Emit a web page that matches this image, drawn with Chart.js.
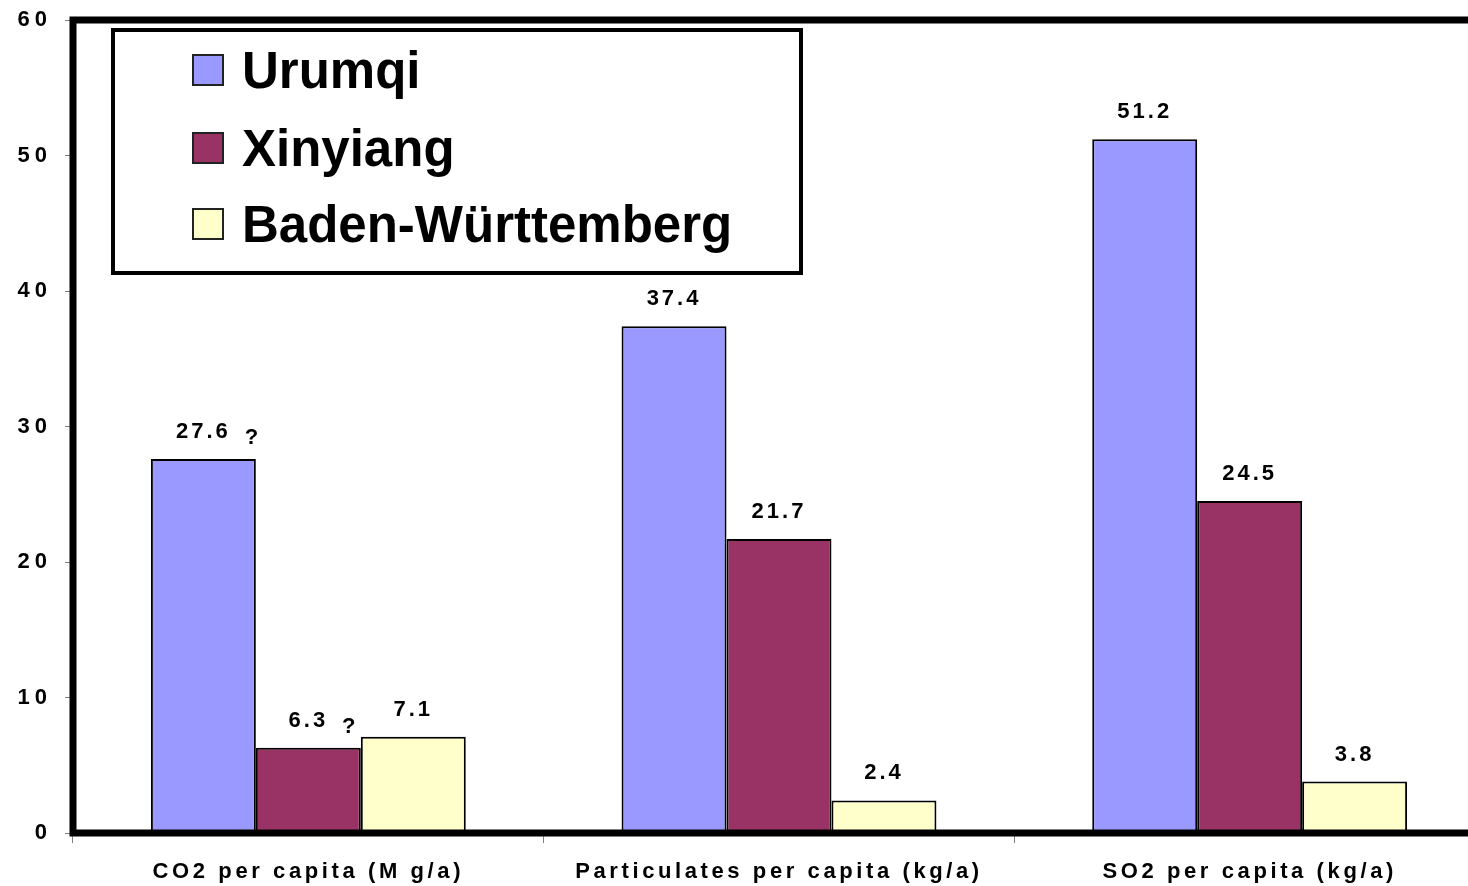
<!DOCTYPE html>
<html>
<head>
<meta charset="utf-8">
<title>Per capita emissions</title>
<script src="https://cdn.jsdelivr.net/npm/chart.js@4/dist/chart.umd.min.js"></script>
<style>
  html, body { margin: 0; padding: 0; background: #ffffff; overflow: hidden; }
  canvas { display: block; }
</style>
</head>
<body>
<canvas id="chart" width="1500" height="886"></canvas>
<script>
// Categories and series values
const categories = ['CO2 per capita (M g/a)', 'Particulates per capita (kg/a)', 'SO2 per capita (kg/a)'];
const urumqi = [27.6, 37.4, 51.2];
const xinyiang = [6.3, 21.7, 24.5];
const badenWuerttemberg = [7.1, 2.4, 3.8];

// Values marked as uncertain get a "?" next to their label
const urumqiUncertain = [true, false, false];
const xinyiangUncertain = [true, false, false];
const badenUncertain = [false, false, false];

// Value axis
const yMin = 0;
const yMax = 60;
const yStep = 10;

const FONT = '"Liberation Sans", Arial, Helvetica, sans-serif';

// Thick black frame around the plot area (top, left, bottom)
const framePlugin = {
  id: 'frame',
  afterDatasetsDraw(chart) {
    const { ctx, chartArea: a } = chart;
    ctx.save();
    ctx.strokeStyle = '#000000';
    ctx.lineWidth = 7;
    ctx.lineJoin = 'miter';
    ctx.strokeRect(a.left, a.top, a.right - a.left, a.bottom - a.top);
    ctx.restore();
  }
};

// Value labels above each bar
const valueLabelPlugin = {
  id: 'valueLabels',
  afterDatasetsDraw(chart) {
    const { ctx } = chart;
    ctx.save();
    ctx.letterSpacing = '3px';
    ctx.fillStyle = '#000000';
    ctx.font = 'bold 22px ' + FONT;
    ctx.textBaseline = 'alphabetic';
    chart.data.datasets.forEach((ds, di) => {
      const meta = chart.getDatasetMeta(di);
      meta.data.forEach((bar, i) => {
        const txt = ds.data[i].toFixed(1);
        const w = ctx.measureText(txt).width;
        const baseY = bar.y - 21;
        ctx.textAlign = 'center';
        ctx.fillText(txt, bar.x, baseY);
        if (ds.uncertain && ds.uncertain[i]) {
          ctx.textAlign = 'left';
          ctx.fillText('?', bar.x + w / 2 + 14, baseY + 6);
        }
      });
    });
    ctx.restore();
  }
};

// Boxed legend inside the plot area
const boxLegendPlugin = {
  id: 'boxLegend',
  afterDraw(chart) {
    const { ctx } = chart;
    ctx.save();
    ctx.letterSpacing = '0px';
    ctx.fillStyle = '#ffffff';
    ctx.fillRect(113, 30, 688, 243);
    ctx.strokeStyle = '#000000';
    ctx.lineWidth = 4;
    ctx.strokeRect(113, 30, 688, 243);
    const rows = [70, 148, 224];
    ctx.font = 'bold 51px ' + FONT;
    ctx.textAlign = 'left';
    ctx.textBaseline = 'alphabetic';
    chart.data.datasets.forEach((ds, i) => {
      const cy = rows[i];
      ctx.fillStyle = ds.backgroundColor;
      ctx.fillRect(193, cy - 15, 30, 30);
      ctx.strokeStyle = '#222222';
      ctx.lineWidth = 2;
      ctx.strokeRect(193, cy - 15, 30, 30);
      ctx.fillStyle = '#000000';
      ctx.fillText(ds.label, 242, cy + 18);
    });
    ctx.restore();
  }
};

// Spaced-out lettering for axis text
const spacingPlugin = {
  id: 'spacing',
  beforeDraw(chart) {
    chart.ctx.letterSpacing = '3.6px';
  }
};

// Wider spacing for the value-axis numbers
function spaceLabels(scale, spacing) {
  if (scale._spacedLabels) return;
  const orig = scale.drawLabels;
  scale.drawLabels = function (area) {
    const ctx = this.ctx;
    const prev = ctx.letterSpacing;
    ctx.letterSpacing = spacing;
    orig.call(this, area);
    ctx.letterSpacing = prev;
  };
  scale._spacedLabels = true;
}

new Chart(document.getElementById('chart'), {
  type: 'bar',
  data: {
    labels: categories,
    datasets: [
      { label: 'Urumqi', data: urumqi, uncertain: urumqiUncertain,
        backgroundColor: '#9999ff', borderColor: '#000000', borderWidth: 2 },
      { label: 'Xinyiang', data: xinyiang, uncertain: xinyiangUncertain,
        backgroundColor: '#993366', borderColor: '#000000', borderWidth: 2 },
      { label: 'Baden-Württemberg', data: badenWuerttemberg, uncertain: badenUncertain,
        backgroundColor: '#ffffcc', borderColor: '#000000', borderWidth: 2 }
    ]
  },
  options: {
    responsive: false,
    animation: false,
    devicePixelRatio: 1,
    layout: { padding: { top: 20, right: 15, bottom: 0, left: 0 } },
    datasets: { bar: { categoryPercentage: 0.669, barPercentage: 1.0 } },
    plugins: {
      legend: { display: false },
      tooltip: { enabled: false },
      title: { display: false }
    },
    scales: {
      x: {
        afterFit(scale) { scale.height = 53; },
        border: { display: false },
        grid: {
          offset: true,
          drawOnChartArea: false,
          drawTicks: true,
          tickLength: 10,
          color: '#808080',
          lineWidth: 1
        },
        ticks: {
          color: '#000000',
          font: { family: FONT, size: 22, weight: 'bold' },
          padding: 16,
          maxRotation: 0,
          autoSkip: false
        }
      },
      y: {
        min: yMin,
        max: yMax,
        afterFit(scale) {
          scale.width = 73;
          scale.paddingTop = 0;
          scale.paddingBottom = 0;
          spaceLabels(scale, '5px');
        },
        border: { display: false },
        grid: {
          drawOnChartArea: false,
          drawTicks: true,
          tickLength: 8,
          color: '#808080',
          lineWidth: 1
        },
        ticks: {
          stepSize: yStep,
          color: '#000000',
          font: { family: FONT, size: 22, weight: 'bold' },
          padding: 13
        }
      }
    }
  },
  plugins: [spacingPlugin, framePlugin, valueLabelPlugin, boxLegendPlugin]
});
</script>
</body>
</html>
